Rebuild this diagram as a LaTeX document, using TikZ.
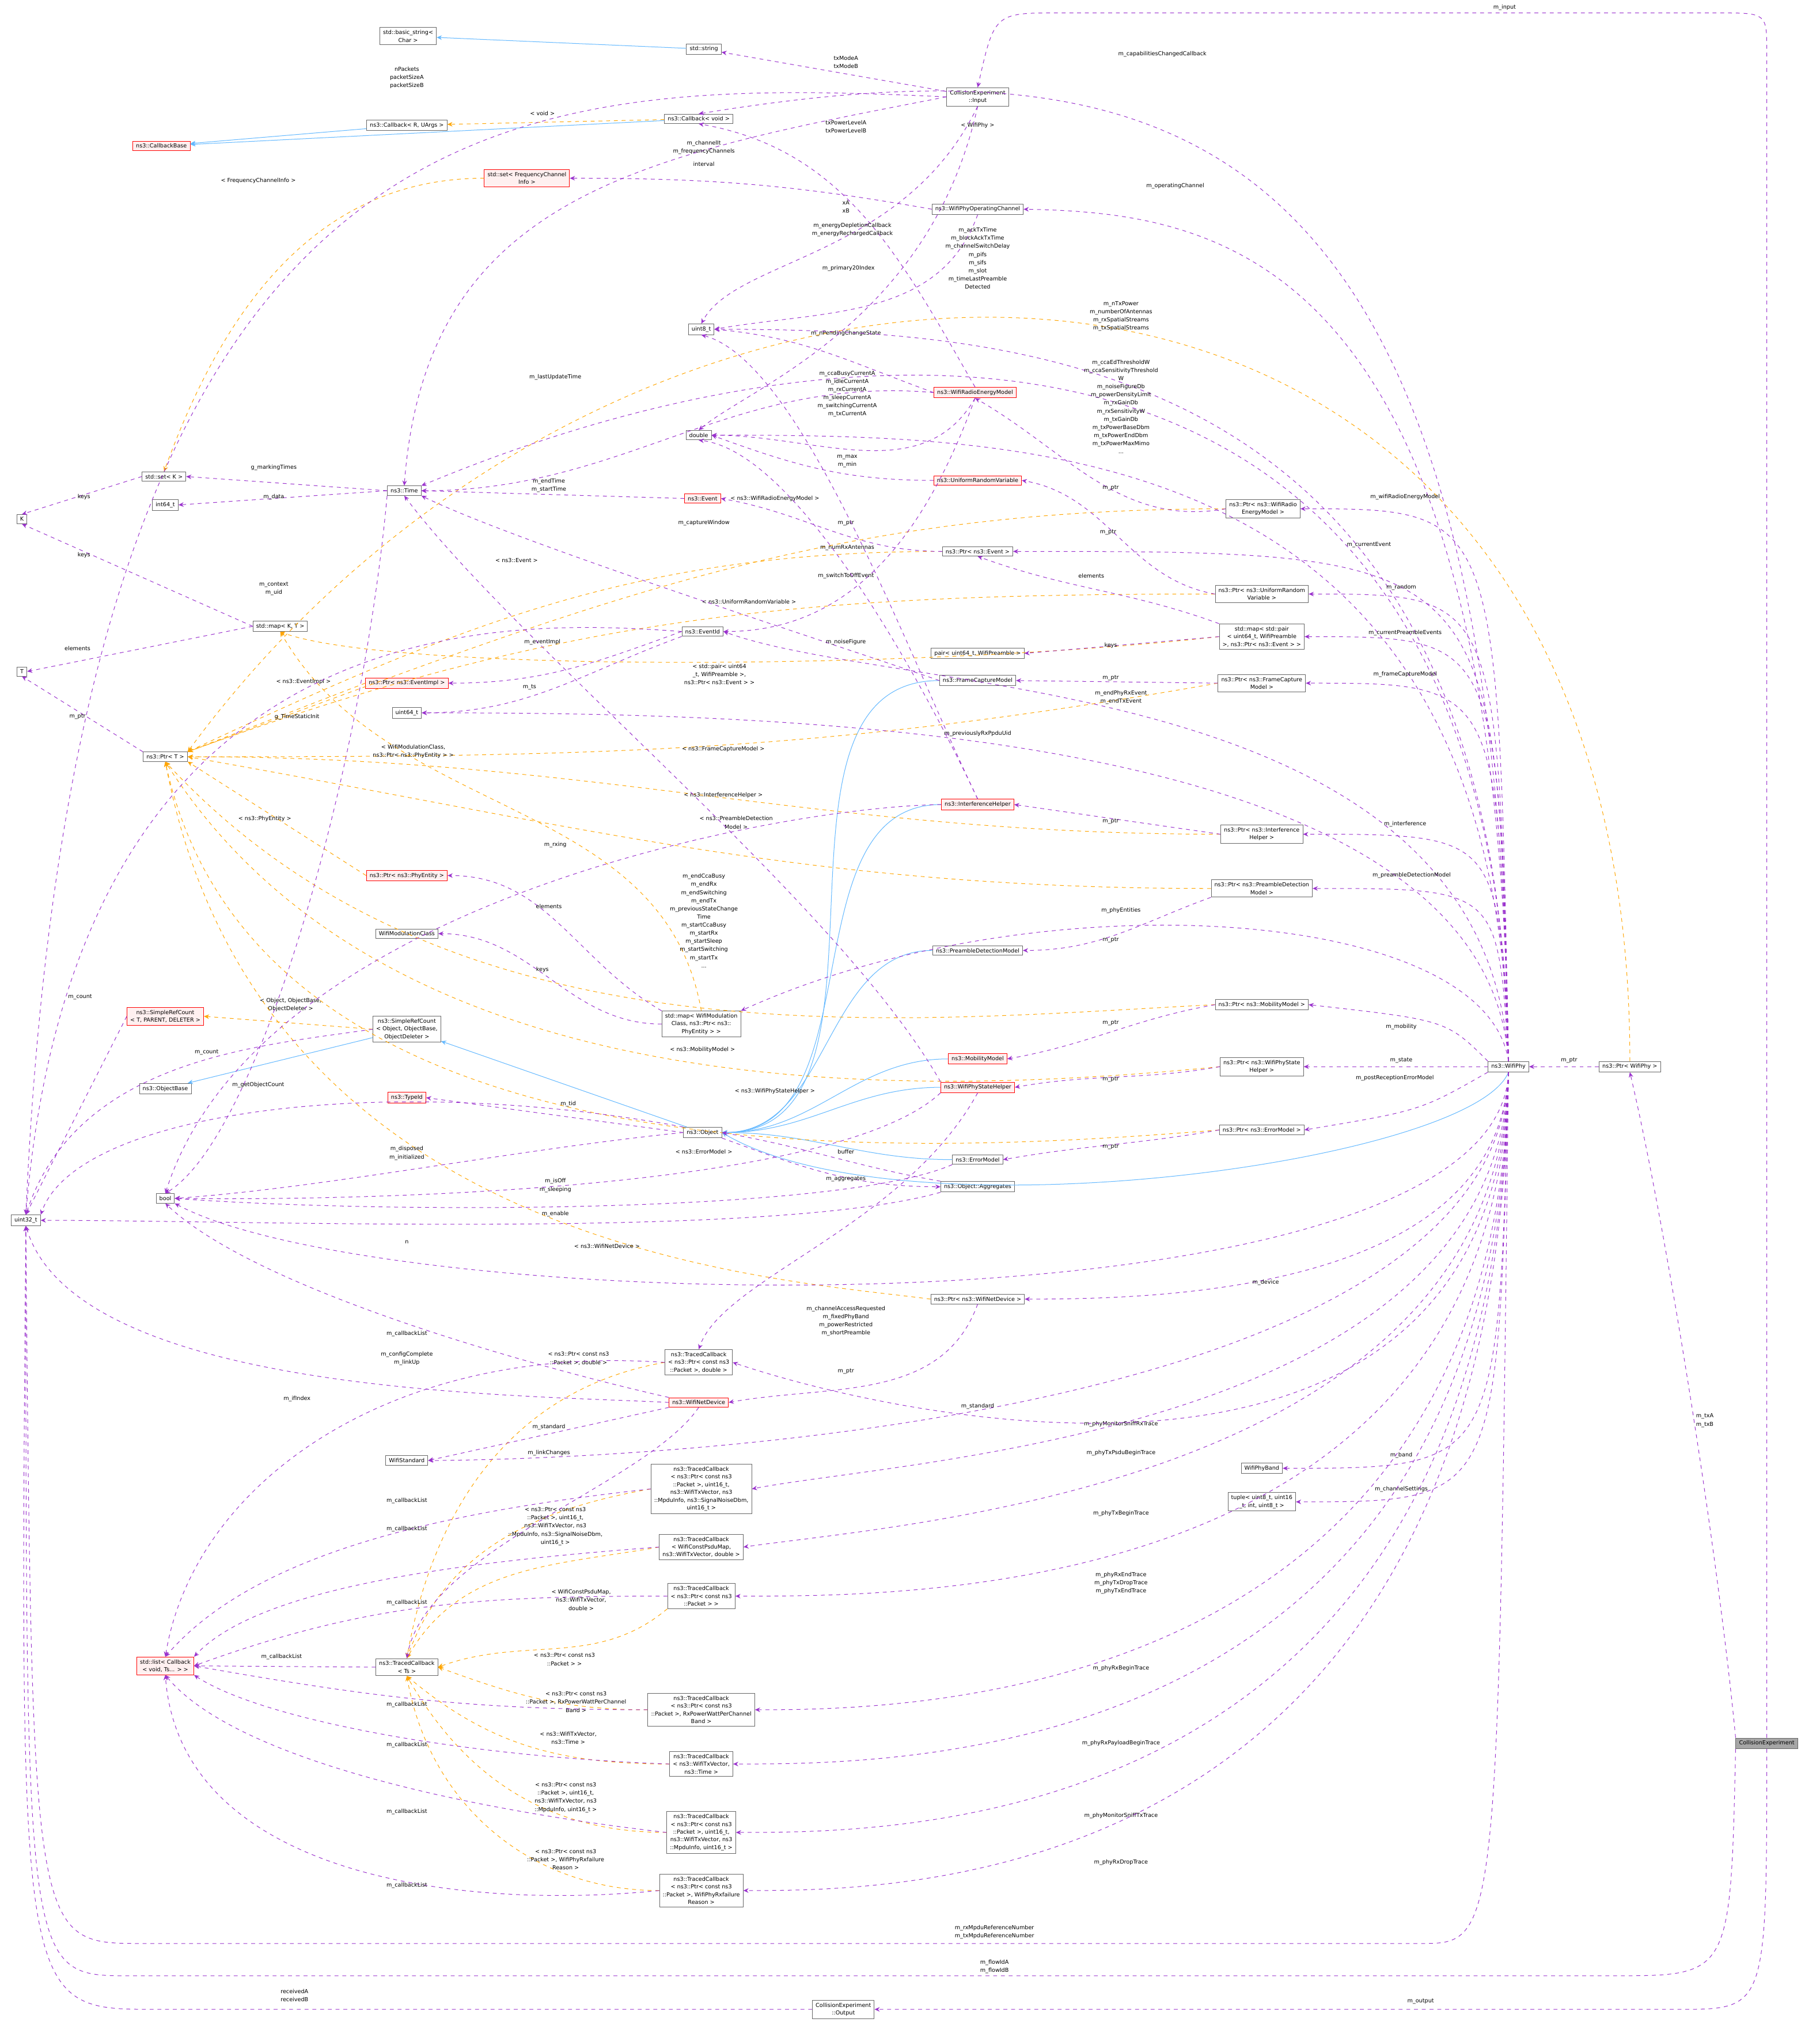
\documentclass[tikz,border=0pt]{standalone}
\usepackage{fontspec}
\setmainfont{DejaVu Sans}
\usetikzlibrary{arrows.meta}
\definecolor{dpur}{HTML}{9A32CD}
\definecolor{dorg}{HTML}{FFA500}
\definecolor{dblu}{HTML}{63B8FF}
\definecolor{pinkf}{HTML}{FFF0F0}
\begin{document}
\begin{tikzpicture}[x=1pt,y=1pt,
 bx/.style={draw=black!60,fill=white,inner xsep=2.5pt,inner ysep=2pt,align=center,font=\fontsize{4.3}{6}\selectfont,line width=0.4pt},
 rbx/.style={bx,draw=red,fill=pinkf},
 gbx/.style={bx,fill=black!35},
 lb/.style={font=\fontsize{4.3}{6.3}\selectfont,align=center,inner sep=0.5pt},
 dep/.style={draw=dpur,dashed,line width=0.45pt,-{Stealth[length=4pt,width=3.5pt]}},
 tpl/.style={draw=dorg,dashed,line width=0.45pt,-{Stealth[length=4pt,width=3.5pt]}},
 inh/.style={draw=dblu,line width=0.45pt,-{Stealth[length=4pt,width=3.5pt]}}]
\useasboundingbox (0,0) rectangle (1409,-1572);
% nodes
\node[bx] (bstr) at (316,-28) {std::basic\_string<\\Char >};
\node[bx] (str) at (545,-38) {std::string};
\node[bx] (inp) at (757,-75) {CollisionExperiment\\::Input};
\node[bx] (cbv) at (541,-92) {ns3::Callback< void >};
\node[bx] (cbr) at (315,-97) {ns3::Callback< R, UArgs >};
\node[rbx] (cbb) at (125,-113) {ns3::CallbackBase};
\node[rbx] (sfreq) at (408,-138) {std::set< FrequencyChannel\\Info >};
\node[bx] (opch) at (757,-162) {ns3::WifiPhyOperatingChannel};
\node[bx] (u8) at (543,-255) {uint8\_t};
\node[rbx] (wrem) at (755,-304) {ns3::WifiRadioEnergyModel};
\node[bx] (dbl) at (541,-337) {double};
\node[rbx] (urv) at (757,-372) {ns3::UniformRandomVariable};
\node[bx] (setk) at (127,-369) {std::set< K >};
\node[bx] (i64) at (128,-391) {int64\_t};
\node[bx] (time) at (313,-380) {ns3::Time};
\node[rbx] (evt) at (544,-386) {ns3::Event};
\node[bx] (K) at (17,-402) {K};
\node[bx] (pwrem) at (978,-394) {ns3::Ptr< ns3::WifiRadio\\EnergyModel >};
\node[bx] (pevt) at (757,-427) {ns3::Ptr< ns3::Event >};
\node[bx] (purv) at (977,-460) {ns3::Ptr< ns3::UniformRandom\\Variable >};
\node[bx] (mapkt) at (217,-485) {std::map< K, T >};
\node[bx] (eid) at (544,-489) {ns3::EventId};
\node[bx] (T) at (17,-520) {T};
\node[rbx] (pei) at (315,-529) {ns3::Ptr< ns3::EventImpl >};
\node[bx] (mpair) at (977,-493) {std::map< std::pair\\< uint64\_t, WifiPreamble\\>, ns3::Ptr< ns3::Event > >};
\node[bx] (pair) at (757,-506) {pair< uint64\_t, WifiPreamble >};
\node[bx] (fcm) at (757,-527) {ns3::FrameCaptureModel};
\node[bx] (pfcm) at (977,-529) {ns3::Ptr< ns3::FrameCapture\\Model >};
\node[bx] (u64) at (315,-552) {uint64\_t};
\node[bx] (ptrT) at (128,-586) {ns3::Ptr< T >};
\node[rbx] (ih) at (757,-623) {ns3::InterferenceHelper};
\node[bx] (pih) at (977,-646) {ns3::Ptr< ns3::Interference\\Helper >};
\node[bx] (ppdm) at (977,-688) {ns3::Ptr< ns3::PreambleDetection\\Model >};
\node[rbx] (ppe) at (315,-678) {ns3::Ptr< ns3::PhyEntity >};
\node[bx] (wmc) at (315,-723) {WifiModulationClass};
\node[bx] (pdm) at (757,-736) {ns3::PreambleDetectionModel};
\node[bx] (mwmc) at (543,-793) {std::map< WifiModulation\\Class, ns3::Ptr< ns3::\\PhyEntity > >};
\node[bx] (pmm) at (977,-778) {ns3::Ptr< ns3::MobilityModel >};
\node[rbx] (srct) at (128,-787) {ns3::SimpleRefCount\\< T, PARENT, DELETER >};
\node[bx] (srco) at (315,-797) {ns3::SimpleRefCount\\< Object, ObjectBase,\\ObjectDeleter >};
\node[rbx] (mm) at (757,-820) {ns3::MobilityModel};
\node[bx] (pwpsh) at (977,-826) {ns3::Ptr< ns3::WifiPhyState\\Helper >};
\node[bx] (wp) at (1168,-826) {ns3::WifiPhy};
\node[bx] (pwp) at (1262,-826) {ns3::Ptr< WifiPhy >};
\node[gbx] (ce) at (1368,-1350) {CollisionExperiment};
\node[bx] (obase) at (128,-843) {ns3::ObjectBase};
\node[rbx] (wpsh) at (757,-842) {ns3::WifiPhyStateHelper};
\node[rbx] (tid) at (315,-850) {ns3::TypeId};
\node[bx] (obj) at (544,-877) {ns3::Object};
\node[bx] (pem) at (977,-875) {ns3::Ptr< ns3::ErrorModel >};
\node[bx] (em) at (757,-898) {ns3::ErrorModel};
\node[bx] (agg) at (757,-919) {ns3::Object::Aggregates};
\node[bx] (bool) at (128,-928) {bool};
\node[bx] (u32) at (20,-945) {uint32\_t};
\node[bx] (pwnd) at (757,-1006) {ns3::Ptr< ns3::WifiNetDevice >};
\node[bx] (tcpd) at (541,-1055) {ns3::TracedCallback\\< ns3::Ptr< const ns3\\::Packet >, double >};
\node[rbx] (wnd) at (541,-1086) {ns3::WifiNetDevice};
\node[bx] (wstd) at (315,-1131) {WifiStandard};
\node[bx] (wpb) at (977,-1137) {WifiPhyBand};
\node[bx] (tup) at (977,-1163) {tuple< uint8\_t, uint16\\\_t, int, uint8\_t >};
\node[bx] (tcsr) at (543,-1153) {ns3::TracedCallback\\< ns3::Ptr< const ns3\\::Packet >, uint16\_t,\\ns3::WifiTxVector, ns3\\::MpduInfo, ns3::SignalNoiseDbm,\\uint16\_t >};
\node[bx] (tcps) at (543,-1198) {ns3::TracedCallback\\< WifiConstPsduMap,\\ns3::WifiTxVector, double >};
\node[bx] (tcp) at (543,-1236) {ns3::TracedCallback\\< ns3::Ptr< const ns3\\::Packet > >};
\node[rbx] (slist) at (128,-1290) {std::list< Callback\\< void, Ts... > >};
\node[bx] (tcts) at (315,-1291) {ns3::TracedCallback\\< Ts >};
\node[bx] (tcrp) at (543,-1324) {ns3::TracedCallback\\< ns3::Ptr< const ns3\\::Packet >, RxPowerWattPerChannel\\Band >};
\node[bx] (tctv) at (543,-1366) {ns3::TracedCallback\\< ns3::WifiTxVector,\\ns3::Time >};
\node[bx] (tcst) at (543,-1419) {ns3::TracedCallback\\< ns3::Ptr< const ns3\\::Packet >, uint16\_t,\\ns3::WifiTxVector, ns3\\::MpduInfo, uint16\_t >};
\node[bx] (tcrf) at (543,-1464) {ns3::TracedCallback\\< ns3::Ptr< const ns3\\::Packet >, WifiPhyRxfailure\\Reason >};
\node[bx] (out) at (653,-1556) {CollisionExperiment\\::Output};
% inheritance
\draw[inh] (str) -- (bstr);
\draw[inh] (cbv) -- (cbb);
\draw[inh] (cbr) -- (cbb);
\draw[inh] (srco) -- (obase);
\draw[inh] (obj) -- (srco);
\foreach \n in {fcm,ih,pdm,mm,wpsh,em} \draw[inh] (\n.west) to[out=180,in=0] (obj.east);
\draw[inh] (wp.south) .. controls (1140,-900) and (700,-960) .. (obj.east);
% templates
\draw[tpl] (cbv) -- (cbr) node[lb] at (420,-88) {< void >};
\draw[tpl] (sfreq.west) to[out=180,in=70] (setk.north) node[lb] at (200,-140) {< FrequencyChannelInfo >};
\draw[tpl] (pwp.north) .. controls (1262,-100) and (500,-100) .. (ptrT.north east) node[lb] at (757,-97) {< WifiPhy >};
\draw[tpl] (pwrem.west) to[out=180,in=20] (ptrT.north east) node[lb] at (600,-386) {< ns3::WifiRadioEnergyModel >};
\draw[tpl] (pevt.west) to[out=180,in=25] (ptrT.north east) node[lb] at (400,-434) {< ns3::Event >};
\draw[tpl] (purv.west) to[out=180,in=20] (ptrT.north east) node[lb] at (580,-466) {< ns3::UniformRandomVariable >};
\draw[tpl] (mpair.west) .. controls (700,-520) and (300,-520) .. (mapkt.south) node[lb] at (557,-522) {< std::pair< uint64\\\_t, WifiPreamble >,\\ns3::Ptr< ns3::Event > >};
\draw[tpl] (pei.west) -- (ptrT.north east) node[lb] at (235,-528) {< ns3::EventImpl >};
\draw[tpl] (pfcm.west) to[out=190,in=0] (ptrT.east) node[lb] at (560,-580) {< ns3::FrameCaptureModel >};
\draw[tpl] (pih.west) to[out=180,in=0] (ptrT.east) node[lb] at (560,-616) {< ns3::InterferenceHelper >};
\draw[tpl] (ppdm.west) to[out=180,in=-10] (ptrT.east) node[lb] at (570,-637) {< ns3::PreambleDetection\\Model >};
\draw[tpl] (ppe.west) -- (ptrT.south east) node[lb] at (205,-634) {< ns3::PhyEntity >};
\draw[tpl] (mwmc.north) to[out=100,in=-60] (mapkt.south) node[lb] at (320,-582) {< WifiModulationClass,\\ns3::Ptr< ns3::PhyEntity > >};
\draw[tpl] (pmm.west) .. controls (700,-790) and (350,-830) .. (ptrT.south) node[lb] at (544,-813) {< ns3::MobilityModel >};
\draw[tpl] (pwpsh.west) .. controls (700,-850) and (300,-860) .. (ptrT.south) node[lb] at (600,-845) {< ns3::WifiPhyStateHelper >};
\draw[tpl] (srco.west) -- (srct.east) node[lb] at (225,-778) {< Object, ObjectBase,\\ObjectDeleter >};
\draw[tpl] (pem.west) .. controls (700,-895) and (200,-920) .. (ptrT.south) node[lb] at (545,-892) {< ns3::ErrorModel >};
\draw[tpl] (pwnd.west) .. controls (600,-990) and (200,-970) .. (ptrT.south) node[lb] at (470,-965) {< ns3::WifiNetDevice >};
\draw[tpl] (tcpd.west) to[out=190,in=80] (tcts.north) node[lb] at (448,-1052) {< ns3::Ptr< const ns3\\::Packet >, double >};
\draw[tpl] (tcsr.west) to[out=190,in=70] (tcts.north) node[lb] at (430,-1182) {< ns3::Ptr< const ns3\\::Packet >, uint16\_t,\\ns3::WifiTxVector, ns3\\::MpduInfo, ns3::SignalNoiseDbm,\\uint16\_t >};
\draw[tpl] (tcps.west) to[out=190,in=60] (tcts.north) node[lb] at (450,-1239) {< WifiConstPsduMap,\\ns3::WifiTxVector,\\double >};
\draw[tpl] (tcp.south west) to[out=220,in=20] (tcts.east) node[lb] at (437,-1285) {< ns3::Ptr< const ns3\\::Packet > >};
\draw[tpl] (tcrp.west) to[out=180,in=-20] (tcts.east) node[lb] at (446,-1318) {< ns3::Ptr< const ns3\\::Packet >, RxPowerWattPerChannel\\Band >};
\draw[tpl] (tctv.west) to[out=180,in=-40] (tcts.south) node[lb] at (440,-1346) {< ns3::WifiTxVector,\\ns3::Time >};
\draw[tpl] (tcst.west) to[out=180,in=-60] (tcts.south) node[lb] at (438,-1392) {< ns3::Ptr< const ns3\\::Packet >, uint16\_t,\\ns3::WifiTxVector, ns3\\::MpduInfo, uint16\_t >};
\draw[tpl] (tcrf.west) to[out=180,in=-80] (tcts.south) node[lb] at (438,-1440) {< ns3::Ptr< const ns3\\::Packet >, WifiPhyRxfailure\\Reason >};
% purple: misc
\draw[dep] (inp) -- (str) node[lb] at (655,-48) {txModeA\\txModeB};
\draw[dep] (inp.west) .. controls (400,-60) and (60,-60) .. (u32.north) node[lb] at (315,-60) {nPackets\\packetSizeA\\packetSizeB};
\draw[dep] (inp.west) .. controls (500,-120) and (330,-150) .. (time.north) node[lb] at (545,-127) {interval};
\draw[dep] (inp.south) .. controls (700,-200) and (570,-200) .. (u8.north) node[lb] at (655,-98) {txPowerLevelA\\txPowerLevelB};
\draw[dep] (inp.south) .. controls (720,-250) and (580,-300) .. (dbl.north) node[lb] at (655,-160) {xA\\xB};
\draw[dep] (ce.north) -- (1368,-40) .. controls (1368,-10) .. (1330,-10) -- (820,-10) .. controls (770,-10) .. (inp.north) node[lb] at (1165,-6) {m\_input};
\draw[dep] (ce.north west) .. controls (1330,-1200) and (1290,-950) .. (pwp.south) node[lb] at (1320,-1100) {m\_txA\\m\_txB};
\draw[dep] (ce.south) .. controls (1368,-1556) .. (1300,-1556) -- (out.east) node[lb] at (1100,-1550) {m\_output};
\draw[dep] (ce.south west) .. controls (1340,-1530) .. (1250,-1530) -- (100,-1530) .. controls (20,-1530) .. (u32.south) node[lb] at (770,-1523) {m\_flowIdA\\m\_flowIdB};
\draw[dep] (out.west) -- (120,-1556) .. controls (15,-1556) .. (u32.south) node[lb] at (228,-1545) {receivedA\\receivedB};
\draw[dep] (opch.west) to[out=170,in=0] (sfreq.east) node[lb] at (545,-114) {m\_channelIt\\m\_frequencyChannels};
\draw[dep] (opch.south) to[out=250,in=10] (u8.east) node[lb] at (657,-208) {m\_primary20Index};
\draw[dep] (wrem.north) to[out=120,in=-10] (cbv.south) node[lb] at (660,-178) {m\_energyDepletionCallback\\m\_energyRechargedCallback};
\draw[dep] (wrem.west) to[out=160,in=-5] (u8.east) node[lb] at (655,-258) {m\_nPendingChangeState};
\draw[dep] (wrem.west) to[out=175,in=0] (time.east) node[lb] at (430,-292) {m\_lastUpdateTime};
\draw[dep] (wrem.south) to[out=240,in=0] (dbl.east) node[lb] at (656,-305) {m\_ccaBusyCurrentA\\m\_idleCurrentA\\m\_rxCurrentA\\m\_sleepCurrentA\\m\_switchingCurrentA\\m\_txCurrentA};
\draw[dep] (wrem.south) to[out=250,in=0] (eid.east) node[lb] at (655,-446) {m\_switchToOffEvent};
\draw[dep] (urv.west) to[out=180,in=-20] (dbl.east) node[lb] at (656,-357) {m\_max\\m\_min};
\draw[dep] (setk.west) -- (K.north) node[lb] at (65,-385) {keys};
\draw[dep] (mapkt.west) -- (K.south) node[lb] at (65,-430) {keys};
\draw[dep] (mapkt.west) -- (T.east) node[lb] at (60,-502) {elements};
\draw[dep] (time.west) -- (setk.east) node[lb] at (212,-362) {g\_markingTimes};
\draw[dep] (time.west) -- (i64.east) node[lb] at (212,-385) {m\_data};
\draw[dep] (time.south west) .. controls (280,-600) and (200,-880) .. (bool.north) node[lb] at (230,-555) {g\_TimeStaticInit};
\draw[dep] (evt.west) -- (time.east) node[lb] at (425,-376) {m\_endTime\\m\_startTime};
\draw[dep] (ptrT.north west) -- (T.south) node[lb] at (60,-555) {m\_ptr};
\draw[dep] (pwrem.west) to[out=190,in=-30] (wrem.south) node[lb] at (860,-378) {m\_ptr};
\draw[dep] (pevt.west) to[out=180,in=-10] (evt.east) node[lb] at (655,-405) {m\_ptr};
\draw[dep] (purv.west) to[out=170,in=-10] (urv.east) node[lb] at (858,-412) {m\_ptr};
\draw[dep] (mpair.west) -- (pair.east) node[lb] at (860,-500) {keys};
\draw[dep] (mpair.north west) to[out=160,in=-20] (pevt.south) node[lb] at (845,-446) {elements};
\draw[dep] (pfcm.west) -- (fcm.east) node[lb] at (860,-525) {m\_ptr};
\draw[dep] (eid.west) to[out=200,in=0] (pei.east) node[lb] at (420,-497) {m\_eventImpl};
\draw[dep] (eid.west) .. controls (400,-480) and (60,-460) .. (u32.north) node[lb] at (212,-456) {m\_context\\m\_uid};
\draw[dep] (eid.south west) to[out=200,in=0] (u64.east) node[lb] at (410,-532) {m\_ts};
\draw[dep] (fcm.west) .. controls (650,-500) and (400,-420) .. (time.south east) node[lb] at (545,-405) {m\_captureWindow};
\draw[dep] (ih.north) .. controls (700,-500) and (620,-280) .. (u8.south) node[lb] at (656,-424) {m\_numRxAntennas};
\draw[dep] (ih.north) .. controls (720,-540) and (620,-350) .. (dbl.south) node[lb] at (655,-497) {m\_noiseFigure};
\draw[dep] (ih.west) .. controls (600,-625) and (200,-700) .. (bool.north) node[lb] at (430,-654) {m\_rxing};
\draw[dep] (pih.west) -- (ih.east) node[lb] at (860,-636) {m\_ptr};
\draw[dep] (ppdm.south west) to[out=200,in=0] (pdm.east) node[lb] at (860,-728) {m\_ptr};
\draw[dep] (mwmc.west) to[out=180,in=0] (wmc.east) node[lb] at (420,-751) {keys};
\draw[dep] (mwmc.north west) to[out=150,in=0] (ppe.east) node[lb] at (425,-702) {elements};
\draw[dep] (pmm.west) to[out=190,in=10] (mm.east) node[lb] at (860,-792) {m\_ptr};
\draw[dep] (pwpsh.west) to[out=190,in=10] (wpsh.east) node[lb] at (860,-836) {m\_ptr};
\draw[dep] (wpsh.north west) .. controls (650,-700) and (400,-500) .. (time.south) node[lb] at (545,-713) {m\_endCcaBusy\\m\_endRx\\m\_endSwitching\\m\_endTx\\m\_previousStateChange\\Time\\m\_startCcaBusy\\m\_startRx\\m\_startSleep\\m\_startSwitching\\m\_startTx\\...};
\draw[dep] (wpsh.south west) .. controls (650,-920) and (300,-930) .. (bool.east) node[lb] at (430,-918) {m\_isOff\\m\_sleeping};
\draw[dep] (wpsh.south) .. controls (700,-950) and (560,-990) .. (tcpd.north) node[lb] at (655,-1023) {m\_channelAccessRequested\\m\_fixedPhyBand\\m\_powerRestricted\\m\_shortPreamble};
\draw[dep] (srct.west) -- (u32.north) node[lb] at (62,-772) {m\_count};
\draw[dep] (srco.west) .. controls (200,-810) and (60,-820) .. (u32.north) node[lb] at (160,-815) {m\_count};
\draw[dep] (obj.west) -- (tid.east) node[lb] at (440,-855) {m\_tid};
\draw[dep] (obj.west) .. controls (400,-890) and (250,-920) .. (bool.east) node[lb] at (315,-893) {m\_disposed\\m\_initialized};
\draw[dep] (obj.north west) .. controls (300,-830) and (60,-860) .. (u32.north east) node[lb] at (200,-840) {m\_getObjectCount};
\draw[dep] (obj.south east) to[out=-20,in=180] (agg.west) node[lb] at (655,-913) {m\_aggregates};
\draw[dep] (agg.north west) to[out=170,in=-10] (obj.east) node[lb] at (655,-892) {buffer};
\draw[dep] (agg.south west) .. controls (600,-960) and (200,-945) .. (u32.east) node[lb] at (315,-962) {n};
\draw[dep] (pem.west) to[out=190,in=10] (em.east) node[lb] at (860,-888) {m\_ptr};
\draw[dep] (em.south west) .. controls (650,-940) and (300,-940) .. (bool.east) node[lb] at (430,-940) {m\_enable};
\draw[dep] (pwnd.south) to[out=250,in=10] (wnd.east) node[lb] at (655,-1062) {m\_ptr};
\draw[dep] (wnd.west) .. controls (400,-1080) and (60,-1080) .. (u32.south) node[lb] at (230,-1083) {m\_ifIndex};
\draw[dep] (wnd.north west) .. controls (420,-1060) and (200,-1000) .. (bool.south) node[lb] at (315,-1052) {m\_configComplete\\m\_linkUp};
\draw[dep] (wnd.south west) -- (wstd.east) node[lb] at (425,-1105) {m\_standard};
\draw[dep] (wnd.south) .. controls (500,-1150) and (330,-1200) .. (tcts.north) node[lb] at (425,-1125) {m\_linkChanges};
\draw[dep] (tcts.west) -- (slist.east) node[lb] at (218,-1283) {m\_callbackList};
\draw[dep] (tcpd.west) .. controls (300,-1040) and (150,-1150) .. (slist.north) node[lb] at (315,-1033) {m\_callbackList};
\draw[dep] (tcsr.west) .. controls (350,-1170) and (200,-1200) .. (slist.north) node[lb] at (315,-1162) {m\_callbackList};
\draw[dep] (tcps.west) .. controls (350,-1210) and (200,-1230) .. (slist.north east) node[lb] at (315,-1184) {m\_callbackList};
\draw[dep] (tcp.west) to[out=180,in=20] (slist.east) node[lb] at (315,-1241) {m\_callbackList};
\draw[dep] (tcrp.west) to[out=180,in=-10] (slist.east) node[lb] at (315,-1320) {m\_callbackList};
\draw[dep] (tctv.west) .. controls (350,-1360) and (200,-1330) .. (slist.south east) node[lb] at (315,-1351) {m\_callbackList};
\draw[dep] (tcst.west) .. controls (350,-1400) and (180,-1360) .. (slist.south) node[lb] at (315,-1403) {m\_callbackList};
\draw[dep] (tcrf.west) .. controls (350,-1480) and (140,-1450) .. (slist.south) node[lb] at (315,-1460) {m\_callbackList};
\draw[dep] (pwp.west) -- (wp.east) node[lb] at (1215,-821) {m\_ptr};
% WifiPhy edges upward
\draw[dep] (wp.north) .. controls (1160,-80) and (900,-30) .. (cbv.north) node[lb] at (900,-42) {m\_capabilitiesChangedCallback};
\draw[dep] (wp.north) .. controls (1160,-200) and (950,-165) .. (opch.east) node[lb] at (910,-144) {m\_operatingChannel};
\draw[dep] (wp.north) .. controls (1160,-230) and (700,-220) .. (time.north east) node[lb] at (757,-200) {m\_ackTxTime\\m\_blockAckTxTime\\m\_channelSwitchDelay\\m\_pifs\\m\_sifs\\m\_slot\\m\_timeLastPreamble\\Detected};
\draw[dep] (wp.north) .. controls (1160,-280) and (800,-255) .. (u8.east) node[lb] at (868,-245) {m\_nTxPower\\m\_numberOfAntennas\\m\_rxSpatialStreams\\m\_txSpatialStreams};
\draw[dep] (wp.north) .. controls (1160,-340) and (800,-337) .. (dbl.east) node[lb] at (868,-315) {m\_ccaEdThresholdW\\m\_ccaSensitivityThreshold\\W\\m\_noiseFigureDb\\m\_powerDensityLimit\\m\_rxGainDb\\m\_rxSensitivityW\\m\_txGainDb\\m\_txPowerBaseDbm\\m\_txPowerEndDbm\\m\_txPowerMaxMimo\\...};
\draw[dep] (wp.north) .. controls (1160,-394) .. (pwrem.east) node[lb] at (1088,-385) {m\_wifiRadioEnergyModel};
\draw[dep] (wp.north) .. controls (1160,-427) .. (pevt.east) node[lb] at (1060,-422) {m\_currentEvent};
\draw[dep] (wp.north) .. controls (1160,-460) .. (purv.east) node[lb] at (1085,-455) {m\_random};
\draw[dep] (wp.north) .. controls (1160,-493) .. (mpair.east) node[lb] at (1088,-490) {m\_currentPreambleEvents};
\draw[dep] (wp.north) .. controls (1160,-529) .. (pfcm.east) node[lb] at (1088,-522) {m\_frameCaptureModel};
\draw[dep] (wp.north) .. controls (1150,-520) and (700,-540) .. (eid.east) node[lb] at (868,-540) {m\_endPhyRxEvent\\m\_endTxEvent};
\draw[dep] (wp.north) .. controls (1150,-560) and (600,-552) .. (u64.east) node[lb] at (757,-568) {m\_previouslyRxPpduUid};
\draw[dep] (wp.north) .. controls (1160,-646) .. (pih.east) node[lb] at (1088,-638) {m\_interference};
\draw[dep] (wp.north) .. controls (1160,-688) .. (ppdm.east) node[lb] at (1093,-678) {m\_preambleDetectionModel};
\draw[dep] (wp.north) .. controls (1150,-700) and (800,-680) .. (mwmc.north east) node[lb] at (868,-705) {m\_phyEntities};
\draw[dep] (wp.north west) .. controls (1120,-790) .. (pmm.east) node[lb] at (1085,-795) {m\_mobility};
\draw[dep] (wp.west) -- (pwpsh.east) node[lb] at (1085,-821) {m\_state};
\draw[dep] (wp.south west) .. controls (1100,-860) .. (pem.east) node[lb] at (1080,-835) {m\_postReceptionErrorModel};
% WifiPhy edges downward
\draw[dep] (wp.south) .. controls (1160,-1000) and (900,-1006) .. (pwnd.east) node[lb] at (980,-993) {m\_device};
\draw[dep] (wp.south) .. controls (1160,-1040) and (300,-1020) .. (bool.south east);
\draw[dep] (wp.south) .. controls (1160,-1100) and (500,-1130) .. (wstd.east) node[lb] at (757,-1089) {m\_standard};
\draw[dep] (wp.south) .. controls (1160,-1137) .. (wpb.east) node[lb] at (1085,-1127) {m\_band};
\draw[dep] (wp.south) .. controls (1160,-1163) .. (tup.east) node[lb] at (1085,-1153) {m\_channelSettings};
\draw[dep] (wp.south) .. controls (1160,-1110) and (700,-1130) .. (tcsr.east) node[lb] at (868,-1103) {m\_phyMonitorSniffRxTrace};
\draw[dep] (wp.south) .. controls (1160,-1150) and (700,-1180) .. (tcps.east) node[lb] at (868,-1125) {m\_phyTxPsduBeginTrace};
\draw[dep] (wp.south) .. controls (1160,-1200) and (700,-1100) .. (tcpd.east) node[lb] at (868,-1172) {m\_phyTxBeginTrace};
\draw[dep] (wp.south) .. controls (1160,-1240) and (700,-1236) .. (tcp.east) node[lb] at (868,-1226) {m\_phyRxEndTrace\\m\_phyTxDropTrace\\m\_phyTxEndTrace};
\draw[dep] (wp.south) .. controls (1160,-1320) and (700,-1324) .. (tcrp.east) node[lb] at (868,-1292) {m\_phyRxBeginTrace};
\draw[dep] (wp.south) .. controls (1160,-1366) and (700,-1366) .. (tctv.east) node[lb] at (868,-1350) {m\_phyRxPayloadBeginTrace};
\draw[dep] (wp.south) .. controls (1160,-1419) and (700,-1419) .. (tcst.east) node[lb] at (868,-1406) {m\_phyMonitorSniffTxTrace};
\draw[dep] (wp.south) .. controls (1160,-1464) and (700,-1464) .. (tcrf.east) node[lb] at (868,-1442) {m\_phyRxDropTrace};
\draw[dep] (wp.south) .. controls (1160,-1505) .. (1100,-1505) -- (110,-1505) .. controls (25,-1505) .. (u32.south) node[lb] at (770,-1496) {m\_rxMpduReferenceNumber\\m\_txMpduReferenceNumber};
\end{tikzpicture}
\end{document}
